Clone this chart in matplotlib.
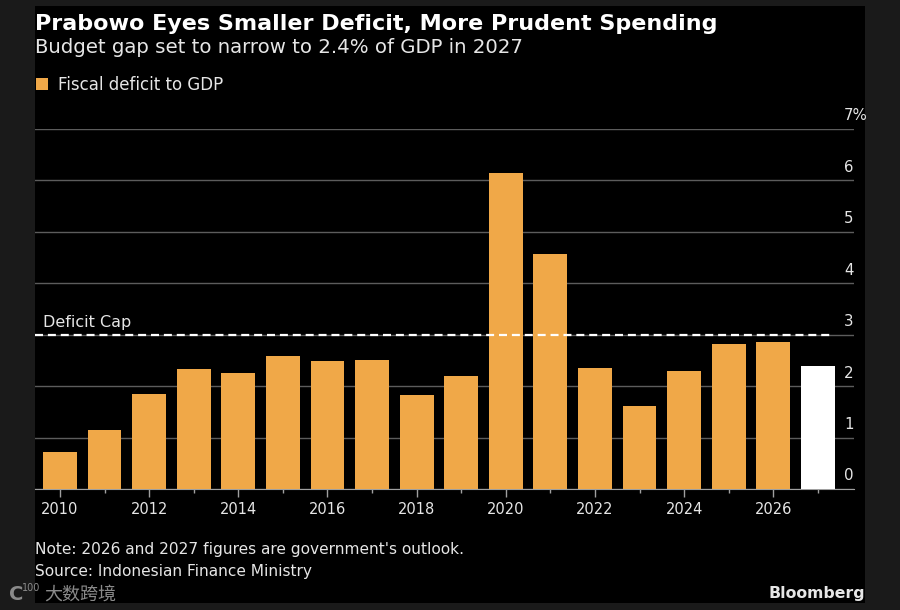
import matplotlib
matplotlib.use("Agg")
import matplotlib.pyplot as plt
from matplotlib.patches import Rectangle
from matplotlib.ticker import FixedLocator
from matplotlib.transforms import ScaledTranslation

years = list(range(2010, 2028))
deficit = [0.72, 1.14, 1.85, 2.33, 2.25, 2.59, 2.49, 2.51, 1.82,
           2.20, 6.14, 4.57, 2.35, 1.61, 2.29, 2.82, 2.86, 2.40]
year_ticks = list(range(2010, 2027, 2))
y_ticks = [0, 1, 2, 3, 4, 5, 6, 7]
y_labels = ["0", "1", "2", "3", "4", "5", "6", "7%"]
deficit_cap = 3

ORANGE = "#f0a848"
TEXT = "#e6e6e6"
W, H = 900, 610


def fx(px):
    return px / W


def fy(px):
    return 1 - px / H


plt.rcParams["font.family"] = ["DejaVu Sans", "Noto Sans CJK SC"]

fig = plt.figure(figsize=(9, 6.1), dpi=100, facecolor="#1a1a1a")
fig.add_artist(Rectangle((fx(35), fy(603)), fx(830), 597 / H,
                         transform=fig.transFigure, facecolor="black",
                         edgecolor="none", zorder=-1))

ax = fig.add_axes([fx(35), fy(489), fx(819), 360 / H])
ax.patch.set_alpha(0)

colors = [ORANGE] * (len(years) - 1) + ["white"]
ax.bar(years, deficit, width=0.76, color=colors, zorder=3)

ax.set_xlim(2009.44, 2027.81)
ax.set_ylim(0, 7)

# сетка и подписи шкалы справа, над линиями
ax.yaxis.tick_right()
ax.set_yticks(y_ticks, y_labels)
ax.tick_params(axis="y", length=0, pad=-7.2, labelsize=10.8, labelcolor=TEXT)
label_shift = ScaledTranslation(0, 4 / 72, fig.dpi_scale_trans)
for lab in ax.get_yticklabels():
    lab.set_verticalalignment("bottom")
    lab.set_transform(lab.get_transform() + label_shift)
ax.grid(axis="y", color="#5c5c5c", linewidth=1, zorder=1)

ax.set_xticks(year_ticks, [str(y) for y in year_ticks])
ax.xaxis.set_minor_locator(FixedLocator(years))
ax.tick_params(axis="x", which="major", length=5.5, width=1, color="#a0a0a0",
               labelsize=10.5, labelcolor=TEXT, pad=4)
ax.tick_params(axis="x", which="minor", length=3, width=1, color="#a0a0a0")

for name in ["top", "left", "right"]:
    ax.spines[name].set_visible(False)
ax.spines["bottom"].set_color("#a0a0a0")

ax.hlines(deficit_cap, 2009.44, 2027.35, color="white", linewidth=1.6,
          linestyles=(0, (3.6, 2.2)), zorder=4)
ax.annotate("Deficit Cap", (2009.44, deficit_cap), xytext=(6, 3.5),
            textcoords="offset points", color=TEXT, fontsize=11.5, va="bottom")

fig.text(fx(35), fy(30), "Prabowo Eyes Smaller Deficit, More Prudent Spending",
         color="white", fontsize=16, fontweight="bold", va="baseline")
fig.text(fx(35), fy(53), "Budget gap set to narrow to 2.4% of GDP in 2027",
         color=TEXT, fontsize=14.25, va="baseline")

fig.add_artist(Rectangle((fx(36), fy(90)), fx(12), 12 / H,
                         transform=fig.transFigure, facecolor=ORANGE,
                         edgecolor="none"))
fig.text(fx(58), fy(90), "Fiscal deficit to GDP", color=TEXT, fontsize=12,
         va="baseline")

fig.text(fx(35), fy(554), "Note: 2026 and 2027 figures are government's outlook.",
         color=TEXT, fontsize=11.05, va="baseline")
fig.text(fx(35), fy(576), "Source: Indonesian Finance Ministry",
         color=TEXT, fontsize=11.1, va="baseline")
fig.text(fx(865), fy(598), "Bloomberg", color=TEXT, fontsize=11.3,
         fontweight="bold", ha="right", va="baseline")

# водяной знак
fig.text(fx(9), fy(600), "C", color="#8a8a8a", fontsize=14, fontweight="bold",
         va="baseline")
fig.text(fx(22), fy(591), "100", color="#8a8a8a", fontsize=7, va="baseline")
fig.text(fx(44), fy(600), "大数跨境", color="#8a8a8a", fontsize=13, va="baseline",
         family=["Noto Sans CJK SC", "DejaVu Sans"])

fig.savefig("out.png", dpi=100, facecolor=fig.get_facecolor())
